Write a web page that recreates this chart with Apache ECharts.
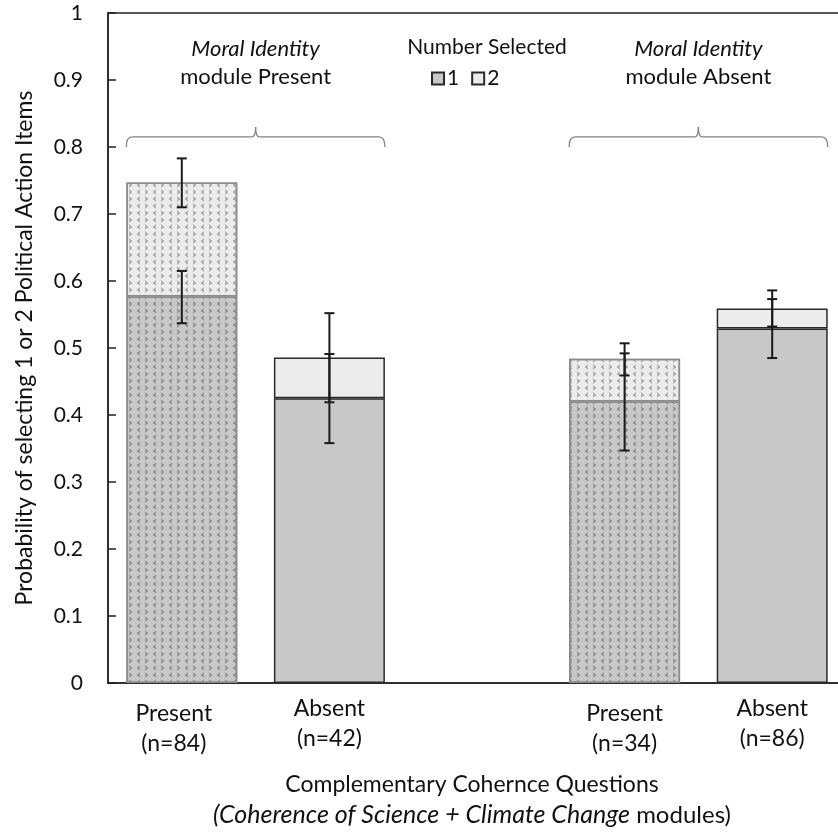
<!DOCTYPE html>
<html>
<head>
<meta charset="utf-8">
<script src="https://cdn.jsdelivr.net/npm/echarts@6/dist/echarts.min.js"></script>
<style>
html,body{margin:0;padding:0;background:#fff;}
#main{width:838px;height:834px;}
</style>
</head>
<body>
<div id="main"></div>
<script>
// ---- data ----
const categories = ['Present\n(n=84)', 'Absent\n(n=42)', '', 'Present\n(n=34)', 'Absent\n(n=86)'];
const patterned = [true, false, null, true, false];
const selected1 = [0.577, 0.425, null, 0.420, 0.529];
const selected2 = [0.170, 0.061, null, 0.064, 0.030];
const err1Low  = [0.537, 0.358, null, 0.347, 0.485];
const err1High = [0.615, 0.491, null, 0.492, 0.573];
const err2Low  = [0.710, 0.419, null, 0.459, 0.532];
const err2High = [0.783, 0.552, null, 0.507, 0.586];
const groupLabels = [['Moral Identity', 'module Present'], ['Moral Identity', 'module Absent']];
const legendNames = ['1', '2'];

const FONT = 'Lato';
const chev = ['path://M0,0L6,5L0,10L1.6,5Z', 'path://M6,0L0,5L6,10L4.4,5Z'];
function decal(col){
  return {symbol: chev, symbolSize: 1, color: col, dashArrayX: [5, 3], dashArrayY: [6, 1], rotation: 0};
}
function barItems(vals, fill, decCol){
  return vals.map((v, i) => {
    if (v === null) return '-';
    if (patterned[i]) {
      return {value: v, itemStyle: {color: fill, borderColor: '#8c8c8c', borderWidth: 1.5, decal: decal(decCol)}};
    }
    return {value: v, itemStyle: {color: fill, borderColor: '#2a2a2a', borderWidth: 1.5}};
  });
}
function errData(lo, hi){
  const out = [];
  lo.forEach((l, i) => { if (l !== null) out.push([i, l, hi[i]]); });
  return out;
}
function renderErr(params, api){
  const x = api.value(0);
  const lo = api.coord([x, api.value(1)]);
  const hi = api.coord([x, api.value(2)]);
  const w = 5;
  const st = {stroke: '#1a1a1a', lineWidth: 2};
  return {type: 'group', children: [
    {type: 'line', shape: {x1: lo[0], y1: lo[1], x2: hi[0], y2: hi[1]}, style: st},
    {type: 'line', shape: {x1: lo[0]-w, y1: lo[1], x2: lo[0]+w, y2: lo[1]}, style: st},
    {type: 'line', shape: {x1: hi[0]-w, y1: hi[1], x2: hi[0]+w, y2: hi[1]}, style: st}
  ]};
}
// label paddings for the category labels (layout only)
function labelPadding(i){
  if (i === 0) return [5, 16, 0, 0];
  if (patterned[i]) return [5, 0, 0, 0];
  return [0, 0, 0, 0];
}

const chart = echarts.init(document.getElementById('main'), null, {renderer: 'canvas'});
const option = {
  backgroundColor: '#fff',
  animation: false,
  textStyle: {fontFamily: FONT},
  grid: {left: 108, right: -8, top: 13, bottom: 151, show: true, borderColor: '#222', borderWidth: 1.5,
         backgroundColor: 'transparent', outerBoundsMode: 'none', containLabel: false},
  title: {
    text: 'Number Selected', left: 482, top: 32, textAlign: 'center',
    textStyle: {fontFamily: FONT, fontSize: 21, fontWeight: 'normal', color: '#111'}
  },
  legend: {
    data: legendNames, left: 431, top: 68, itemWidth: 12, itemHeight: 12, itemGap: 12, padding: 0,
    icon: 'rect',
    textStyle: {fontFamily: FONT, fontSize: 21, color: '#111', padding: [0, 0, 0, -2]}
  },
  xAxis: {
    type: 'category',
    data: categories.map((c, i) => ({value: c, textStyle: {padding: labelPadding(i)}})),
    boundaryGap: true,
    axisLine: {lineStyle: {color: '#222', width: 1.5}},
    axisTick: {show: false},
    axisLabel: {interval: 0, fontFamily: FONT, fontSize: 23, color: '#111', lineHeight: 30, margin: 11},
    name: '{n|Complementary Cohernce Questions}\n{i|(Coherence of Science + Climate Change}{m| modules)}',
    nameLocation: 'middle', nameGap: 87,
    nameTextStyle: {
      fontFamily: FONT, fontSize: 23, color: '#111', lineHeight: 30, padding: [0, 10, 0, 0],
      rich: {n: {fontFamily: FONT, fontSize: 23, color: '#111', lineHeight: 30},
             m: {fontFamily: FONT, fontSize: 24, color: '#111', lineHeight: 30},
             i: {fontFamily: FONT, fontSize: 25, color: '#111', fontStyle: 'italic', lineHeight: 30}}
    }
  },
  yAxis: {
    type: 'value', min: 0, max: 1, interval: 0.1,
    axisLine: {show: true, lineStyle: {color: '#222', width: 1.5}},
    axisTick: {show: true, inside: true, length: 8, lineStyle: {color: '#222', width: 1.5}},
    splitLine: {show: false},
    axisLabel: {fontFamily: FONT, fontSize: 21, color: '#111', margin: 25},
    name: 'Probability of selecting 1 or 2 Political Action Items',
    nameLocation: 'middle', nameRotate: 90, nameGap: 72,
    nameTextStyle: {fontFamily: FONT, fontSize: 23, color: '#111'}
  },
  series: [
    {name: '1', type: 'bar', stack: 'a', barWidth: 111, data: barItems(selected1, '#c8c8c8', '#888888'),
     itemStyle: {color: '#c8c8c8', borderColor: '#2a2a2a', borderWidth: 1.5}},
    {name: '2', type: 'bar', stack: 'a', barWidth: 111, data: barItems(selected2, '#ececec', '#a0a0a0'),
     itemStyle: {color: '#ececec', borderColor: '#2a2a2a', borderWidth: 1.5}},
    {type: 'custom', renderItem: renderErr, data: errData(err1Low, err1High), z: 10, encode: {x: 0, y: [1, 2]}},
    {type: 'custom', renderItem: renderErr, data: errData(err2Low, err2High), z: 10, encode: {x: 0, y: [1, 2]}}
  ]
};
chart.setOption(option);

// braces and group labels, placed from the axis scales
function drawAnnotations(){
  const pairs = [[0, 1], [3, 4]];
  const half = 111 / 2;
  const yLine = chart.convertToPixel({yAxisIndex: 0}, 0.815);
  const yEnd = chart.convertToPixel({yAxisIndex: 0}, 0.8);
  const yTip = chart.convertToPixel({yAxisIndex: 0}, 0.83);
  const yT1 = chart.convertToPixel({yAxisIndex: 0}, 0.946);
  const yT2 = chart.convertToPixel({yAxisIndex: 0}, 0.904);
  const els = [];
  const st = {stroke: '#808080', lineWidth: 1.3, fill: null};
  pairs.forEach((p, k) => {
    const a = chart.convertToPixel({xAxisIndex: 0}, p[0]) - half;
    const b = chart.convertToPixel({xAxisIndex: 0}, p[1]) + half;
    const m = (a + b) / 2;
    const r = 6;
    els.push({type: 'bezierCurve', shape: {x1: a, y1: yEnd, cpx1: a, cpy1: yLine, x2: a + r, y2: yLine}, style: st, z: 20});
    els.push({type: 'line', shape: {x1: a + r, y1: yLine, x2: m - 4, y2: yLine}, style: st, z: 20});
    els.push({type: 'bezierCurve', shape: {x1: m - 4, y1: yLine, cpx1: m, cpy1: yLine, x2: m, y2: yTip}, style: st, z: 20});
    els.push({type: 'bezierCurve', shape: {x1: m + 4, y1: yLine, cpx1: m, cpy1: yLine, x2: m, y2: yTip}, style: st, z: 20});
    els.push({type: 'line', shape: {x1: m + 4, y1: yLine, x2: b - r, y2: yLine}, style: st, z: 20});
    els.push({type: 'bezierCurve', shape: {x1: b, y1: yEnd, cpx1: b, cpy1: yLine, x2: b - r, y2: yLine}, style: st, z: 20});
    els.push({type: 'text', x: m, y: yT1, style: {text: groupLabels[k][0], font: `italic 22px ${FONT}`, fill: '#111', align: 'center', verticalAlign: 'middle'}, z: 20});
    els.push({type: 'text', x: m, y: yT2, style: {text: groupLabels[k][1], font: `22px ${FONT}`, fill: '#111', align: 'center', verticalAlign: 'middle'}, z: 20});
  });
  chart.setOption({graphic: els});
}
drawAnnotations();
</script>
</body>
</html>
